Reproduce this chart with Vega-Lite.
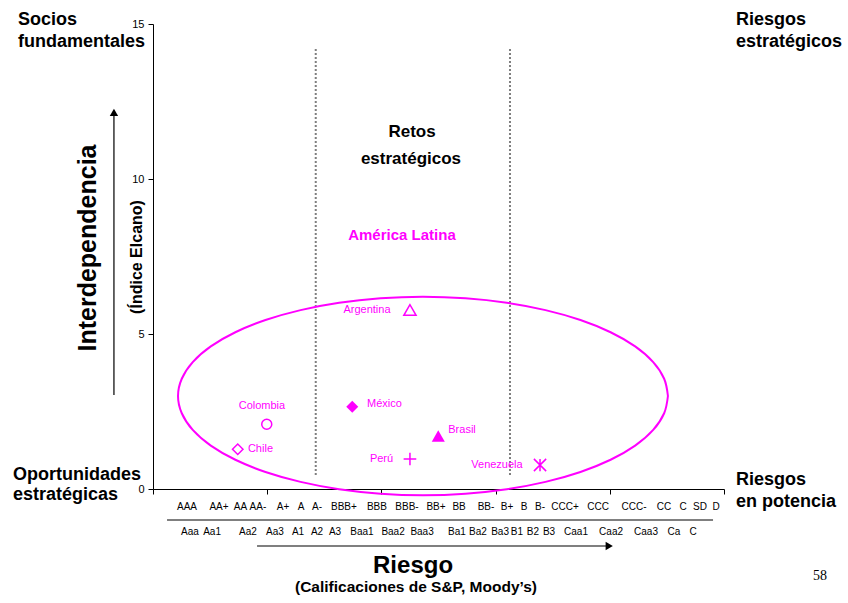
{
  "$schema": "https://vega.github.io/schema/vega-lite/v6.json",
  "width": 571,
  "height": 465,
  "autosize": {"type": "none"},
  "padding": {"left": 153, "top": 24, "right": 124, "bottom": 114},
  "background": "white",
  "config": {
    "view": {"stroke": null},
    "font": "Liberation Sans",
    "text": {"font": "Liberation Sans"}
  },
  "datasets": {
    "paises": [
      {"pais": "Colombia", "x": 0.996, "y": 2.087, "lx": 0.954, "ly": 2.677},
      {"pais": "Chile", "x": 0.742, "y": 1.281, "lx": 0.941, "ly": 1.29},
      {"pais": "México", "x": 1.745, "y": 2.655, "lx": 2.027, "ly": 2.742},
      {"pais": "Brasil", "x": 2.498, "y": 1.71, "lx": 2.706, "ly": 1.903},
      {"pais": "Perú", "x": 2.25, "y": 0.968, "lx": 2.001, "ly": 0.968},
      {"pais": "Venezuela", "x": 3.389, "y": 0.774, "lx": 3.012, "ly": 0.774},
      {"pais": "Argentina", "x": 2.25, "y": 5.774, "lx": 1.874, "ly": 5.774}
    ],
    "elipse": [
      {"i": 0, "x": 4.509, "y": 3.0}, {"i": 1, "x": 4.476, "y": 3.556}, {"i": 2, "x": 4.38, "y": 4.094},
      {"i": 3, "x": 4.222, "y": 4.6}, {"i": 4, "x": 4.007, "y": 5.057}, {"i": 5, "x": 3.743, "y": 5.451},
      {"i": 6, "x": 3.437, "y": 5.771}, {"i": 7, "x": 3.098, "y": 6.007}, {"i": 8, "x": 2.736, "y": 6.151},
      {"i": 9, "x": 2.364, "y": 6.2}, {"i": 10, "x": 1.992, "y": 6.151}, {"i": 11, "x": 1.63, "y": 6.007},
      {"i": 12, "x": 1.292, "y": 5.771}, {"i": 13, "x": 0.985, "y": 5.451}, {"i": 14, "x": 0.721, "y": 5.057},
      {"i": 15, "x": 0.506, "y": 4.6}, {"i": 16, "x": 0.348, "y": 4.094}, {"i": 17, "x": 0.252, "y": 3.556},
      {"i": 18, "x": 0.219, "y": 3.0}, {"i": 19, "x": 0.252, "y": 2.444}, {"i": 20, "x": 0.348, "y": 1.906},
      {"i": 21, "x": 0.506, "y": 1.4}, {"i": 22, "x": 0.721, "y": 0.943}, {"i": 23, "x": 0.985, "y": 0.549},
      {"i": 24, "x": 1.292, "y": 0.229}, {"i": 25, "x": 1.63, "y": -0.007}, {"i": 26, "x": 1.992, "y": -0.151},
      {"i": 27, "x": 2.364, "y": -0.2}, {"i": 28, "x": 2.736, "y": -0.151}, {"i": 29, "x": 3.098, "y": -0.007},
      {"i": 30, "x": 3.437, "y": 0.229}, {"i": 31, "x": 3.743, "y": 0.549}, {"i": 32, "x": 4.007, "y": 0.943},
      {"i": 33, "x": 4.222, "y": 1.4}, {"i": 34, "x": 4.38, "y": 1.906}, {"i": 35, "x": 4.476, "y": 2.444},
      {"i": 36, "x": 4.509, "y": 3.0}
    ],
    "divisiones": [
      {"x": 1.425, "y": 0.452, "y2": 14.226},
      {"x": 3.126, "y": 0.452, "y2": 14.226}
    ],
    "sp": [
      {"r": "AAA", "x": 0.298}, {"r": "AA+", "x": 0.578}, {"r": "AA", "x": 0.766}, {"r": "AA-", "x": 0.919},
      {"r": "A+", "x": 1.138}, {"r": "A", "x": 1.296}, {"r": "A-", "x": 1.436}, {"r": "BBB+", "x": 1.672},
      {"r": "BBB", "x": 1.961}, {"r": "BBB-", "x": 2.224}, {"r": "BB+", "x": 2.478}, {"r": "BB", "x": 2.68},
      {"r": "BB-", "x": 2.916}, {"r": "B+", "x": 3.1}, {"r": "B", "x": 3.249}, {"r": "B-", "x": 3.389},
      {"r": "CCC+", "x": 3.608}, {"r": "CCC", "x": 3.897}, {"r": "CCC-", "x": 4.212}, {"r": "CC", "x": 4.475},
      {"r": "C", "x": 4.641}, {"r": "SD", "x": 4.79}, {"r": "D", "x": 4.93}
    ],
    "moody": [
      {"r": "Aaa", "x": 0.324}, {"r": "Aa1", "x": 0.517}, {"r": "Aa2", "x": 0.832}, {"r": "Aa3", "x": 1.068},
      {"r": "A1", "x": 1.27}, {"r": "A2", "x": 1.436}, {"r": "A3", "x": 1.594}, {"r": "Baa1", "x": 1.83},
      {"r": "Baa2", "x": 2.102}, {"r": "Baa3", "x": 2.356}, {"r": "Ba1", "x": 2.662}, {"r": "Ba2", "x": 2.846},
      {"r": "Ba3", "x": 3.039}, {"r": "B1", "x": 3.187}, {"r": "B2", "x": 3.327}, {"r": "B3", "x": 3.468},
      {"r": "Caa1", "x": 3.704}, {"r": "Caa2", "x": 4.011}, {"r": "Caa3", "x": 4.317}, {"r": "Ca", "x": 4.562},
      {"r": "C", "x": 4.729}
    ],
    "esquinas": [
      {"t": "Socios", "x": -1.182, "y": 15.129},
      {"t": "fundamentales", "x": -1.182, "y": 14.419},
      {"t": "Riesgos", "x": 5.105, "y": 15.129},
      {"t": "estratégicos", "x": 5.105, "y": 14.419},
      {"t": "Oportunidades", "x": -1.226, "y": 0.452},
      {"t": "estratégicas", "x": -1.226, "y": -0.194},
      {"t": "Riesgos", "x": 5.105, "y": 0.29},
      {"t": "en potencia", "x": 5.105, "y": -0.419}
    ],
    "retos": [
      {"t": "Retos", "x": 2.268, "y": 11.516},
      {"t": "estratégicos", "x": 2.259, "y": 10.645}
    ]
  },
  "layer": [
    {
      "data": {"name": "divisiones"},
      "mark": {"type": "rule", "color": "#7f7f7f", "strokeWidth": 2, "strokeDash": [2, 2]},
      "encoding": {
        "x": {"field": "x", "type": "quantitative", "scale": {"domain": [0, 5], "nice": false},
          "axis": {"values": [0, 1, 2, 3, 4, 5], "labels": false, "title": null, "grid": false, "tickSize": 5, "tickColor": "#000", "domainColor": "#000"}},
        "y": {"field": "y", "type": "quantitative", "scale": {"domain": [0, 15], "nice": false},
          "axis": {"values": [0, 5, 10, 15], "title": null, "grid": false, "tickSize": 5, "tickColor": "#000", "domainColor": "#000", "labelFont": "Liberation Sans", "labelFontSize": 11, "labelColor": "#000", "labelPadding": 4}},
        "y2": {"field": "y2"}
      }
    },
    {
      "data": {"name": "elipse"},
      "mark": {"type": "line", "color": "#ff00ff", "strokeWidth": 2, "interpolate": "cardinal"},
      "encoding": {
        "x": {"field": "x", "type": "quantitative"},
        "y": {"field": "y", "type": "quantitative"},
        "order": {"field": "i", "type": "quantitative"}
      }
    },
    {
      "data": {"name": "paises"},
      "transform": [{"filter": {"field": "pais", "oneOf": ["Colombia"]}}],
      "mark": {"type": "point", "shape": "circle", "filled": false, "color": "#ff00ff", "strokeWidth": 1.5, "size": 100, "opacity": 1},
      "encoding": {"x": {"field": "x", "type": "quantitative"}, "y": {"field": "y", "type": "quantitative"}}
    },
    {
      "data": {"name": "paises"},
      "transform": [{"filter": {"field": "pais", "oneOf": ["Chile"]}}],
      "mark": {"type": "point", "shape": "diamond", "filled": false, "color": "#ff00ff", "strokeWidth": 1.5, "size": 110, "opacity": 1},
      "encoding": {"x": {"field": "x", "type": "quantitative"}, "y": {"field": "y", "type": "quantitative"}}
    },
    {
      "data": {"name": "paises"},
      "transform": [{"filter": {"field": "pais", "oneOf": ["México"]}}],
      "mark": {"type": "point", "shape": "diamond", "filled": true, "color": "#ff00ff", "size": 144, "opacity": 1},
      "encoding": {"x": {"field": "x", "type": "quantitative"}, "y": {"field": "y", "type": "quantitative"}}
    },
    {
      "data": {"name": "paises"},
      "transform": [{"filter": {"field": "pais", "oneOf": ["Brasil"]}}],
      "mark": {"type": "point", "shape": "triangle-up", "filled": true, "color": "#ff00ff", "size": 170, "opacity": 1},
      "encoding": {"x": {"field": "x", "type": "quantitative"}, "y": {"field": "y", "type": "quantitative"}}
    },
    {
      "data": {"name": "paises"},
      "transform": [{"filter": {"field": "pais", "oneOf": ["Argentina"]}}],
      "mark": {"type": "point", "shape": "triangle-up", "filled": false, "color": "#ff00ff", "strokeWidth": 1.5, "size": 150, "opacity": 1},
      "encoding": {"x": {"field": "x", "type": "quantitative"}, "y": {"field": "y", "type": "quantitative"}}
    },
    {
      "data": {"name": "paises"},
      "transform": [{"filter": {"field": "pais", "oneOf": ["Perú"]}}],
      "mark": {"type": "point", "shape": "M-1,0L1,0M0,-1L0,1", "filled": false, "color": "#ff00ff", "strokeWidth": 1.5, "size": 160, "opacity": 1},
      "encoding": {"x": {"field": "x", "type": "quantitative"}, "y": {"field": "y", "type": "quantitative"}}
    },
    {
      "data": {"name": "paises"},
      "transform": [{"filter": {"field": "pais", "oneOf": ["Venezuela"]}}],
      "mark": {"type": "point", "shape": "M-1,-1L1,1M-1,1L1,-1M0,-1L0,1", "filled": false, "color": "#ff00ff", "strokeWidth": 1.5, "size": 150, "opacity": 1},
      "encoding": {"x": {"field": "x", "type": "quantitative"}, "y": {"field": "y", "type": "quantitative"}}
    },
    {
      "data": {"name": "paises"},
      "mark": {"type": "text", "color": "#ff00ff", "fontSize": 11, "align": "center", "baseline": "middle"},
      "encoding": {
        "x": {"field": "lx", "type": "quantitative"},
        "y": {"field": "ly", "type": "quantitative"},
        "text": {"field": "pais"}
      }
    },
    {
      "data": {"name": "esquinas"},
      "mark": {"type": "text", "color": "#000", "fontSize": 18, "fontWeight": "bold", "align": "left", "baseline": "middle"},
      "encoding": {
        "x": {"field": "x", "type": "quantitative"},
        "y": {"field": "y", "type": "quantitative"},
        "text": {"field": "t"}
      }
    },
    {
      "data": {"name": "retos"},
      "mark": {"type": "text", "color": "#000", "fontSize": 17, "fontWeight": "bold", "align": "center", "baseline": "middle"},
      "encoding": {
        "x": {"field": "x", "type": "quantitative"},
        "y": {"field": "y", "type": "quantitative"},
        "text": {"field": "t"}
      }
    },
    {
      "data": {"values": [{"t": "América Latina", "x": 2.18, "y": 8.194}]},
      "mark": {"type": "text", "color": "#ff00ff", "fontSize": 15, "fontWeight": "bold", "align": "center", "baseline": "middle"},
      "encoding": {
        "x": {"field": "x", "type": "quantitative"},
        "y": {"field": "y", "type": "quantitative"},
        "text": {"field": "t"}
      }
    },
    {
      "data": {"values": [{"t": "Interdependencia", "x": -0.569, "y": 7.774}]},
      "mark": {"type": "text", "color": "#000", "fontSize": 25, "fontWeight": "bold", "align": "center", "baseline": "middle", "angle": 270},
      "encoding": {
        "x": {"field": "x", "type": "quantitative"},
        "y": {"field": "y", "type": "quantitative"},
        "text": {"field": "t"}
      }
    },
    {
      "data": {"values": [{"t": "(Índice Elcano)", "x": -0.14, "y": 7.484}]},
      "mark": {"type": "text", "color": "#000", "fontSize": 16, "fontWeight": "bold", "align": "center", "baseline": "middle", "angle": 270},
      "encoding": {
        "x": {"field": "x", "type": "quantitative"},
        "y": {"field": "y", "type": "quantitative"},
        "text": {"field": "t"}
      }
    },
    {
      "data": {"values": [{"t": "Riesgo", "x": 2.277, "y": -2.48}]},
      "mark": {"type": "text", "color": "#000", "fontSize": 24, "fontWeight": "bold", "align": "center", "baseline": "middle"},
      "encoding": {
        "x": {"field": "x", "type": "quantitative"},
        "y": {"field": "y", "type": "quantitative"},
        "text": {"field": "t"}
      }
    },
    {
      "data": {"values": [{"t": "(Calificaciones de S&P, Moody’s)", "x": 2.303, "y": -3.16}]},
      "mark": {"type": "text", "color": "#000", "fontSize": 15.5, "fontWeight": "bold", "align": "center", "baseline": "middle"},
      "encoding": {
        "x": {"field": "x", "type": "quantitative"},
        "y": {"field": "y", "type": "quantitative"},
        "text": {"field": "t"}
      }
    },
    {
      "data": {"values": [{"t": "58", "x": 5.84, "y": -2.8}]},
      "mark": {"type": "text", "color": "#000", "fontSize": 14, "font": "Liberation Serif", "align": "center", "baseline": "middle"},
      "encoding": {
        "x": {"field": "x", "type": "quantitative"},
        "y": {"field": "y", "type": "quantitative"},
        "text": {"field": "t"}
      }
    },
    {
      "data": {"name": "sp"},
      "mark": {"type": "text", "color": "#000", "fontSize": 10, "align": "center", "baseline": "middle"},
      "encoding": {
        "x": {"field": "x", "type": "quantitative"},
        "y": {"datum": -0.581},
        "text": {"field": "r"}
      }
    },
    {
      "data": {"name": "moody"},
      "mark": {"type": "text", "color": "#000", "fontSize": 10, "align": "center", "baseline": "middle"},
      "encoding": {
        "x": {"field": "x", "type": "quantitative"},
        "y": {"datum": -1.387},
        "text": {"field": "r"}
      }
    },
    {
      "data": {"values": [{"x": 0.123, "x2": 4.904, "y": -1.0}]},
      "mark": {"type": "rule", "color": "#000", "strokeWidth": 1},
      "encoding": {
        "x": {"field": "x", "type": "quantitative"},
        "x2": {"field": "x2"},
        "y": {"field": "y", "type": "quantitative"}
      }
    },
    {
      "data": {"values": [{"x": 0.911, "x2": 4.0, "y": -1.839}]},
      "mark": {"type": "rule", "color": "#000", "strokeWidth": 1.2},
      "encoding": {
        "x": {"field": "x", "type": "quantitative"},
        "x2": {"field": "x2"},
        "y": {"field": "y", "type": "quantitative"}
      }
    },
    {
      "data": {"values": [{"x": 3.995, "y": -1.839}]},
      "mark": {"type": "point", "shape": "triangle-right", "filled": true, "color": "#000", "size": 70, "opacity": 1},
      "encoding": {
        "x": {"field": "x", "type": "quantitative"},
        "y": {"field": "y", "type": "quantitative"}
      }
    },
    {
      "data": {"values": [{"x": -0.342, "y": 3.032, "y2": 12.05}]},
      "mark": {"type": "rule", "color": "#000", "strokeWidth": 1.2},
      "encoding": {
        "x": {"field": "x", "type": "quantitative"},
        "y": {"field": "y", "type": "quantitative"},
        "y2": {"field": "y2"}
      }
    },
    {
      "data": {"values": [{"x": -0.342, "y": 12.15}]},
      "mark": {"type": "point", "shape": "triangle-up", "filled": true, "color": "#000", "size": 70, "opacity": 1},
      "encoding": {
        "x": {"field": "x", "type": "quantitative"},
        "y": {"field": "y", "type": "quantitative"}
      }
    }
  ]
}
